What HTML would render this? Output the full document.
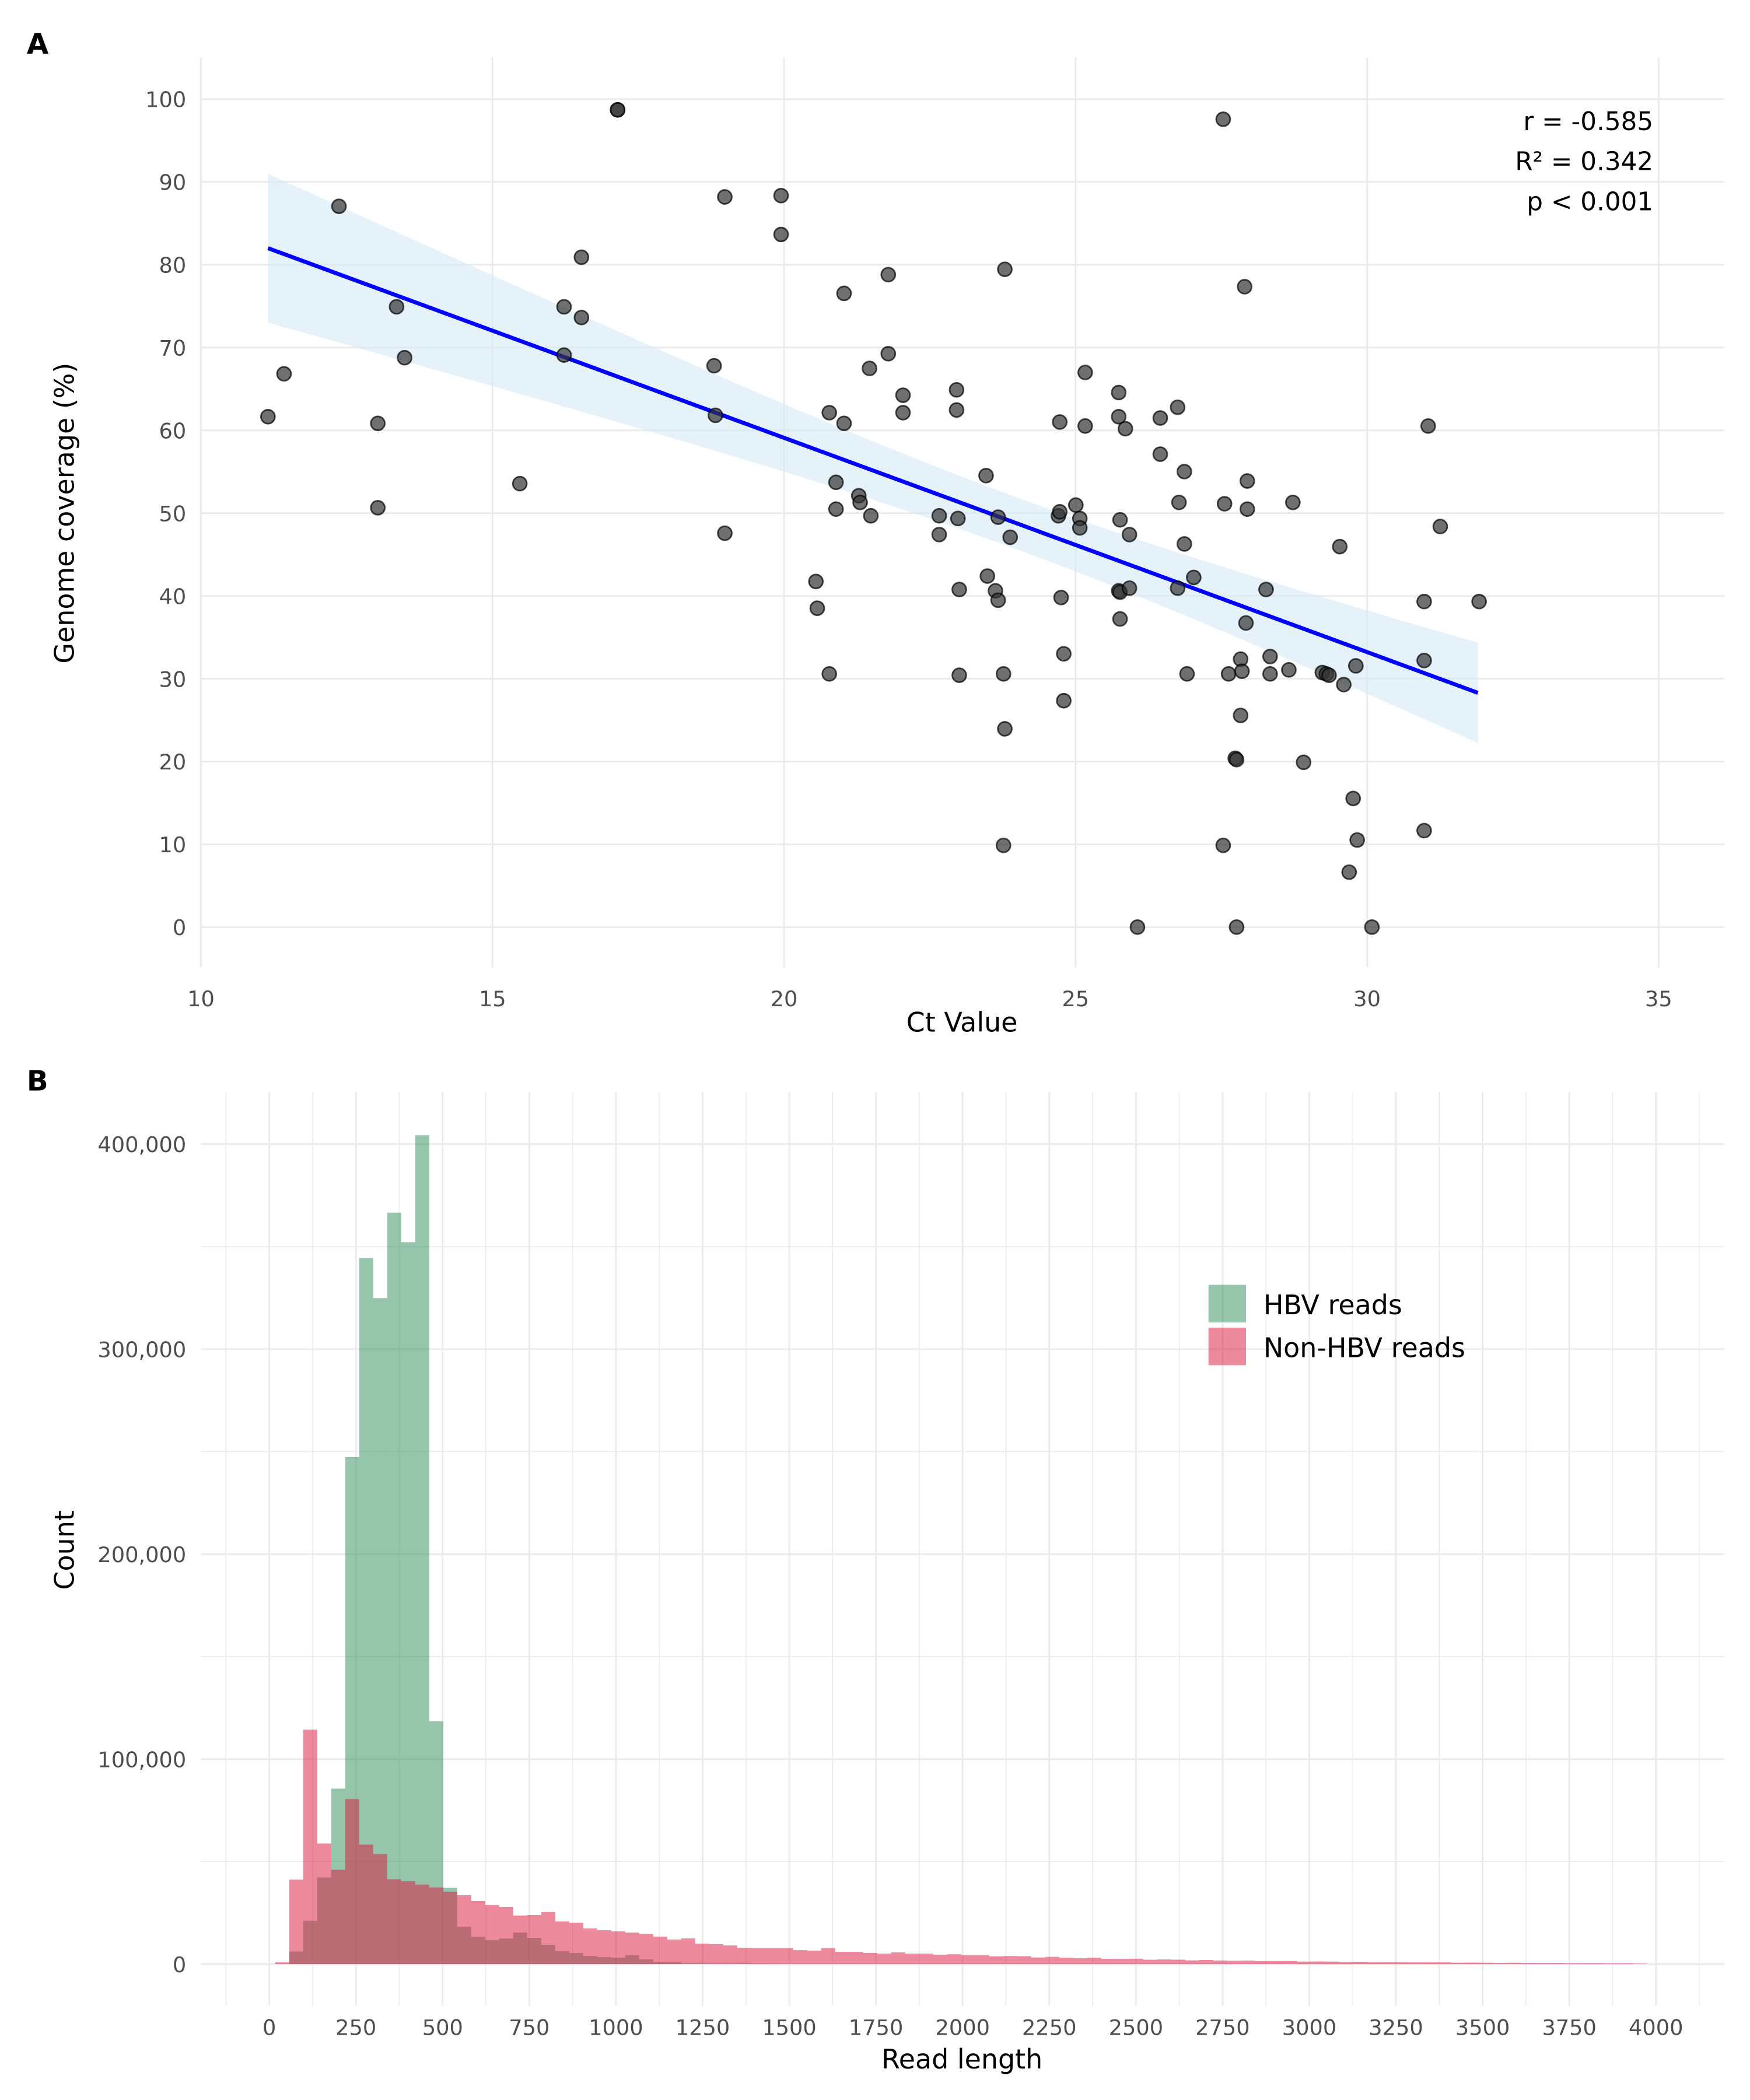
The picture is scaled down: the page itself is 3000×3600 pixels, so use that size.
<!DOCTYPE html>
<html><head><meta charset="utf-8"><style>
html,body{margin:0;padding:0;background:#fff;}
svg{display:block;}
text{font-family:"DejaVu Sans","Liberation Sans",sans-serif;}
</style></head><body>
<svg id="s" xmlns="http://www.w3.org/2000/svg" width="3000" height="3600" viewBox="0 0 1306.2 1567.4" preserveAspectRatio="xMinYMin meet">
<rect width="1310" height="1570" fill="#fff"/>
<g id="gA"></g>
<g id="gB"></g>
<text x="20" y="40" font-size="21" font-weight="bold">A</text>
<text x="20" y="814" font-size="21" font-weight="bold">B</text>
<text x="718" y="770" font-size="20" text-anchor="middle">Ct Value</text>
<text transform="translate(55,383) rotate(-90)" font-size="20" text-anchor="middle">Genome coverage (%)</text>
<text x="718" y="1544" font-size="20" text-anchor="middle">Read length</text>
<text transform="translate(55,1157) rotate(-90)" font-size="20" text-anchor="middle">Count</text>
<text x="1234" y="97" font-size="19" text-anchor="end">r = -0.585</text>
<text x="1234" y="127" font-size="19" text-anchor="end">R² = 0.342</text>
<text x="1234" y="157" font-size="19" text-anchor="end">p &lt; 0.001</text>
<rect x="902" y="959" width="28" height="28" fill="rgb(46,139,87)" fill-opacity="0.5"/>
<rect x="902" y="991" width="28" height="28" fill="rgb(220,20,60)" fill-opacity="0.5"/>
<text x="943" y="981" font-size="20">HBV reads</text>
<text x="943" y="1013" font-size="20">Non-HBV reads</text>
</svg>
<script>
(function(){
var NS="http://www.w3.org/2000/svg";
function el(p,t,a,txt){var e=document.createElementNS(NS,t);for(var k in a)e.setAttribute(k,a[k]);if(txt!==undefined)e.textContent=txt;p.appendChild(e);return e;}
var A=document.getElementById("gA"),B=document.getElementById("gB");
function ax(x){return 150+(x-10)*43.52;}
function ay(y){return 692-y*6.18;}
for(var x=10;x<=35;x+=5){var px=ax(x);el(A,"line",{x1:px,x2:px,y1:43,y2:722,stroke:"#ebebeb","stroke-width":1.3});
 el(A,"text",{x:px,y:751,"font-size":16,fill:"#4d4d4d","text-anchor":"middle"},String(x));}
for(var y=0;y<=100;y+=10){var py=ay(y);el(A,"line",{x1:150,x2:1287,y1:py,y2:py,stroke:"#ebebeb","stroke-width":1.3});
 el(A,"text",{x:139,y:py+6,"font-size":16,fill:"#4d4d4d","text-anchor":"end"},String(y));}
var x0=11.15,x1=31.9,topPts=[],botPts=[];
function ly(x){return 82-2.588*(x-11.15);}
function hw(x){return Math.sqrt(9.8+0.431*(x-24)*(x-24));}
for(var i=0;i<=60;i++){var xx=x0+(x1-x0)*i/60;topPts.push(ax(xx)+","+ay(ly(xx)+hw(xx)));botPts.unshift(ax(xx)+","+ay(ly(xx)-hw(xx)));}
el(A,"polygon",{points:topPts.concat(botPts).join(" "),fill:"#d6e9f5","fill-opacity":0.6});
el(A,"line",{x1:ax(x0),y1:ay(ly(x0)),x2:ax(x1),y2:ay(ly(x1)),stroke:"#0000ff","stroke-width":3});
var pts=[[200,311],[212,279],[253,154],[282,316],[282,379],[296,229],[302,267],[388,361],[421,229],[421,265],[434,192],[434,237],[461,82],[461,82],[533,273],[534,310],[541,147],[541,398],[583,146],[583,175],[609,434],[610,454],[619,308],[619,503],[624,360],[624,380],[630,219],[630,316],[641,370],[642,375],[649,275],[650,385],[663,205],[663,264],[674,295],[674,308],[701,385],[701,399],[714,291],[714,306],[715,387],[716,440],[716,504],[736,355],[737,430],[743,441],[745,386],[745,448],[750,201],[749,503],[750,544],[749,631],[754,401],[790,385],[791,382],[791,315],[792,446],[794,488],[794,523],[803,377],[806,387],[806,394],[810,278],[810,318],[835,293],[835,311],[836,388],[835,441],[836,442],[836,462],[840,320],[843,399],[843,439],[849,692],[866,312],[866,339],[879,304],[880,375],[879,439],[884,352],[884,406],[886,503],[891,431],[913,89],[914,376],[913,631],[917,503],[922,566],[923,567],[923,692],[926,534],[926,492],[927,501],[929,214],[930,465],[931,359],[931,380],[945,440],[948,490],[948,503],[962,500],[965,375],[973,569],[987,502],[990,503],[992,504],[1000,408],[1003,511],[1010,596],[1007,651],[1013,627],[1012,497],[1024,692],[1063,620],[1063,449],[1063,493],[1066,318],[1075,393],[1104,449]];
pts.forEach(function(p){el(A,"circle",{cx:p[0],cy:p[1],r:5.2,fill:"#333","fill-opacity":0.7,stroke:"#000","stroke-opacity":0.7,"stroke-width":1.2});});
function bx(v){return 201+v*0.25875;}
function by(c){return 1466-c*0.00153;}
for(var v=-125;v<=4125;v+=125){var px2=bx(v);var maj=(v%250===0)&&v>=0&&v<=4000;
 el(B,"line",{x1:px2,x2:px2,y1:815,y2:1497,stroke:"#ebebeb","stroke-width":maj?1.3:0.7});
 if(maj)el(B,"text",{x:px2,y:1519,"font-size":16,fill:"#4d4d4d","text-anchor":"middle"},String(v));}
function fmt(n){return String(n).replace(/\B(?=(\d{3})+(?!\d))/g,",");}
for(var c=0;c<=400000;c+=50000){var py2=by(c);var mj=c%100000===0;
 el(B,"line",{x1:150,x2:1287,y1:py2,y2:py2,stroke:"#ebebeb","stroke-width":mj?1.3:0.7});
 if(mj)el(B,"text",{x:139,y:py2+6,"font-size":16,fill:"#4d4d4d","text-anchor":"end"},fmt(c));}
var G=[0,6150,21100,42250,85600,247300,344400,324900,366600,352200,404300,118500,37200,18200,13400,11700,12500,15400,12800,9400,6300,5400,4000,3400,3100,4300,2300,900,900,300,300,200,200,300,150,100];
var P=[800,41200,114400,58800,46000,80500,58300,53700,41400,40400,38800,37400,35300,33600,30800,28800,27900,23700,23900,25400,20800,20200,17400,16500,16000,15400,14800,13400,12000,12500,10000,9700,9100,8000,7700,7700,7700,6800,6600,7700,6000,6000,5400,5100,5700,5100,5100,4600,4800,4300,4300];
for(var k=51;k<98;k++){P.push(Math.round(4300*Math.exp(-(k-50)*0.052)*(1+0.08*Math.sin(k*2.3))));}
P[97]=250;P[96]=400;
function bar(k,c,col){if(!c)return;var bxp=205.5+10.45*k;el(B,"rect",{x:bxp,y:by(c),width:10.45,height:1466-by(c),fill:col,"fill-opacity":0.5});}
for(var k1=0;k1<G.length;k1++)bar(k1,G[k1],"rgb(46,139,87)");
for(var k2=0;k2<P.length;k2++)bar(k2,P[k2],"rgb(220,20,60)");
})();
</script>
</body></html>
